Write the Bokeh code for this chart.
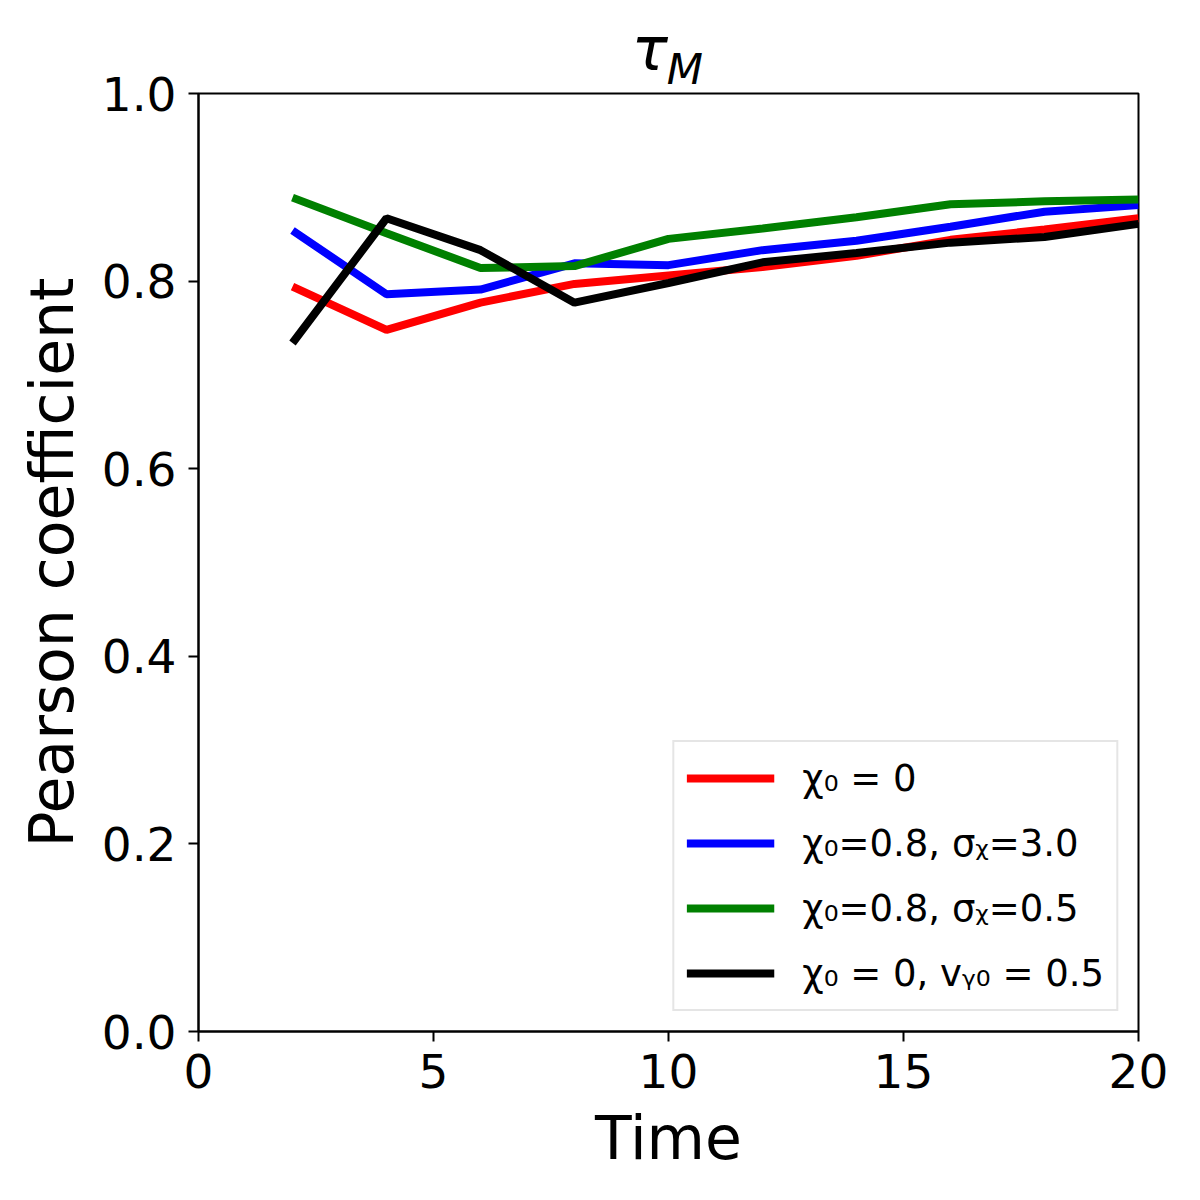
from bokeh.plotting import figure
from bokeh.models import Range1d, FixedTicker, NumeralTickFormatter, Legend, LegendItem, LinearAxis
from bokeh.embed import file_html
from bokeh.resources import INLINE

# ---- data ----
time = [2, 4, 6, 8, 10, 12, 14, 16, 18, 20]
chi0_zero = [0.794, 0.748, 0.777, 0.797, 0.806, 0.815, 0.827, 0.844, 0.855, 0.867]
chi08_sig30 = [0.854, 0.786, 0.791, 0.819, 0.817, 0.833, 0.843, 0.858, 0.874, 0.881]
chi08_sig05 = [0.889, 0.851, 0.814, 0.816, 0.845, 0.856, 0.868, 0.882, 0.885, 0.887]
chi0_vy05 = [0.734, 0.867, 0.833, 0.777, 0.798, 0.820, 0.830, 0.841, 0.847, 0.861]

labels = ["χ₀ = 0", "χ₀=0.8, σᵪ=3.0", "χ₀=0.8, σᵪ=0.5", "χ₀ = 0, vᵧ₀ = 0.5"]
colors = ["#ff0000", "#0000ff", "#008000", "#000000"]
series = [chi0_zero, chi08_sig30, chi08_sig05, chi0_vy05]

x_ticks = [0, 5, 10, 15, 20]
y_ticks = [0.0, 0.2, 0.4, 0.6, 0.8, 1.0]
title_main = "τ"
title_sub = "M"

FONT = "DejaVu Sans"
W, H = 1184, 1184

p = figure(width=W, height=H, output_backend="svg", toolbar_location=None, title=None,
           x_range=Range1d(0, 20), y_range=Range1d(0, 1.0),
           min_border_left=198, min_border_right=46, min_border_top=93, min_border_bottom=153)

p.background_fill_color = "white"
p.border_fill_color = "white"
p.outline_line_color = "black"
p.outline_line_width = 2
p.xgrid.visible = False
p.ygrid.visible = False

items = []
for vals, col, lab in zip(series, colors, labels):
    r = p.line(time, vals, line_color=col, line_width=8)
    items.append(LegendItem(label=lab, renderers=[r]))

for ax in (p.xaxis[0], p.yaxis[0]):
    ax.axis_line_width = 2
    ax.major_tick_line_width = 2
    ax.major_tick_out = 10
    ax.major_tick_in = 0
    ax.minor_tick_line_color = None
    ax.major_label_text_font = FONT
    ax.major_label_text_font_size = "47px"
    ax.major_label_text_color = "black"
    ax.axis_label_text_font = FONT
    ax.axis_label_text_font_size = "60px"
    ax.axis_label_text_font_style = "normal"
    ax.axis_label_text_color = "black"
    ax.major_label_standoff = 12

p.xaxis.ticker = FixedTicker(ticks=x_ticks)
p.yaxis.ticker = FixedTicker(ticks=y_ticks)
p.yaxis.formatter = NumeralTickFormatter(format="0.0")
p.xaxis.axis_label = "Time"
p.yaxis.axis_label = "Pearson coefficient"
p.xaxis.axis_label_standoff = 12
p.yaxis.axis_label_standoff = 12

# ---- title τ_M built from two text-only top axes (never clipped) ----
def title_axis(pos, txt, size, standoff):
    a = LinearAxis(ticker=FixedTicker(ticks=[pos]), major_label_overrides={pos: txt})
    a.axis_line_color = None
    a.major_tick_line_color = None
    a.minor_tick_line_color = None
    a.major_tick_out = 0
    a.major_tick_in = 0
    a.minor_tick_out = 0
    a.minor_tick_in = 0
    a.major_label_standoff = standoff
    a.major_label_text_font = FONT
    a.major_label_text_font_style = "italic"
    a.major_label_text_font_size = size
    a.major_label_text_color = "black"
    return a

p.add_layout(title_axis(10.35, title_sub, "42px", 0), "above")
p.add_layout(title_axis(9.6, title_main, "60px", -42), "above")

legend = Legend(items=items, location="bottom_right", margin=20,
                label_text_font=FONT, label_text_font_size="37px", label_text_color="black",
                glyph_width=88, glyph_height=48, spacing=17, padding=12,
                label_standoff=28,
                border_line_color="#cccccc", border_line_width=2,
                background_fill_color="white", background_fill_alpha=0.8)
p.add_layout(legend)

open("out.html", "w").write(file_html(p, INLINE))
